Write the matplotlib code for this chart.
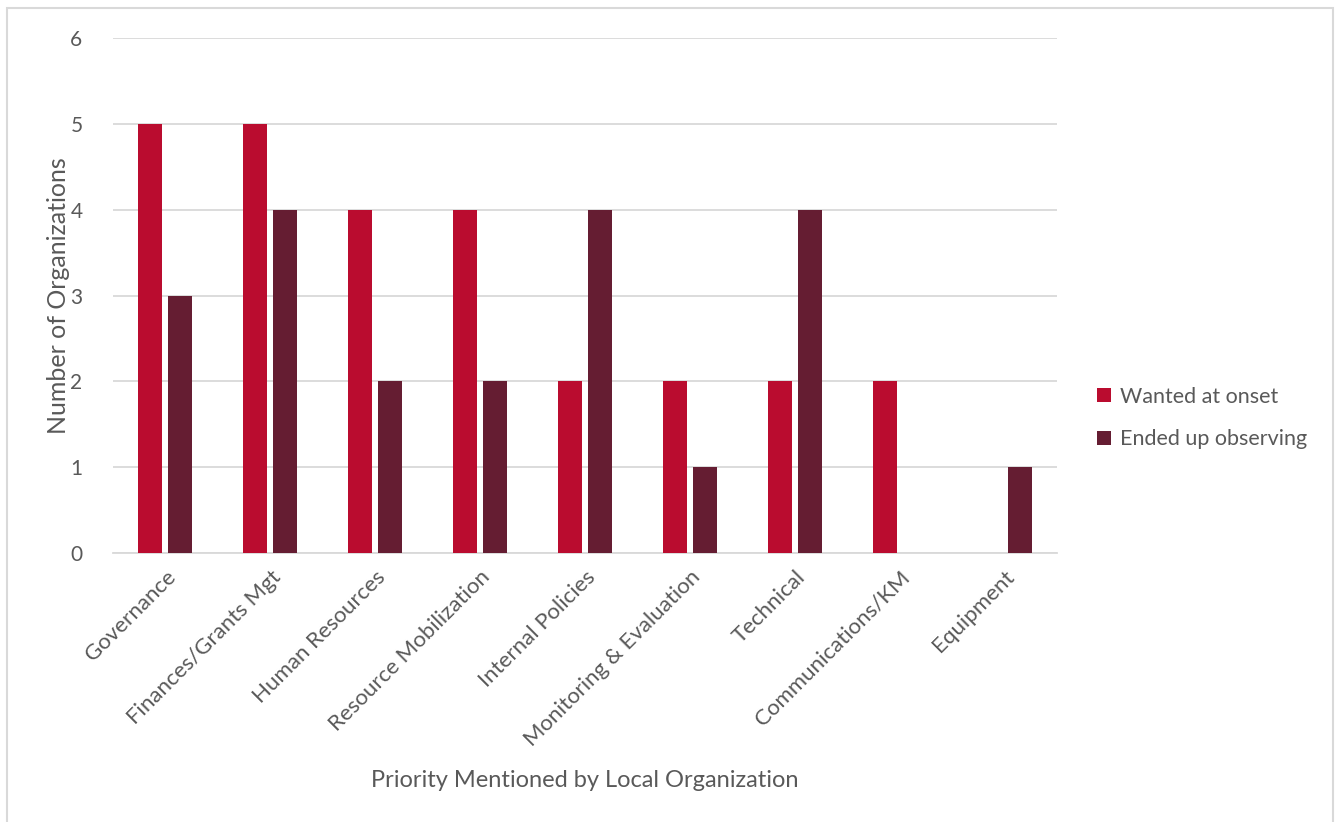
import numpy as np
import matplotlib.pyplot as plt
from matplotlib.patches import Rectangle

categories = ['Governance', 'Finances/Grants Mgt', 'Human Resources', 'Resource Mobilization',
              'Internal Policies', 'Monitoring & Evaluation', 'Technical', 'Communications/KM',
              'Equipment']
wanted = [5, 5, 4, 4, 2, 2, 2, 2, 0]
observed = [3, 4, 2, 2, 4, 1, 4, 0, 1]
series_names = ['Wanted at onset', 'Ended up observing']

red = '#BA0C2F'
dark = '#651D32'
gray = '#595959'

plt.rcParams['font.family'] = ['Lato', 'DejaVu Sans']

fig = plt.figure(figsize=(13.38, 8.22), dpi=100)
ax = fig.add_axes([113/1338, 1-553/822, (1057-113)/1338, (553-38)/822])

x = np.arange(len(categories))
w = 0.229
ax.bar(x - 0.143, wanted, w, color=red, label=series_names[0], zorder=3)
ax.bar(x + 0.143, observed, w, color=dark, label=series_names[1], zorder=3)

ax.set_xlim(-0.5, len(categories) - 0.5)
ax.set_ylim(0, 6)
ax.set_yticks(range(7))
ax.grid(axis='y', color='#d9d9d9', linewidth=1.3, zorder=0)
for s in ['top', 'right', 'left']:
    ax.spines[s].set_visible(False)
ax.spines['bottom'].set_color('#d9d9d9')
ax.spines['bottom'].set_linewidth(1.3)
ax.tick_params(axis='both', length=0, colors=gray)
ax.tick_params(axis='y', pad=22, labelsize=15)
ax.set_xticks(x)
ax.set_xticklabels(categories, rotation=45, ha='right', rotation_mode='anchor')
ax.tick_params(axis='x', pad=10, labelsize=16)

ax.set_ylabel('Number of Organizations', fontsize=18, color=gray, labelpad=0)
ax.set_xlabel('Priority Mentioned by Local Organization', fontsize=17, color=gray, labelpad=14)

leg = ax.legend(loc='center left', bbox_to_anchor=(1.022, 0.262), frameon=False,
                fontsize=15.5, handlelength=0.65, handleheight=0.65, handletextpad=0.4,
                labelspacing=1.05)
for t in leg.get_texts():
    t.set_color(gray)

fig.patches.append(Rectangle((7/1338, -0.01), 1326/1338, 1 - 8/822 + 0.01,
                             transform=fig.transFigure, fill=False,
                             edgecolor='#d9d9d9', linewidth=1.5))

fig.savefig('out.png', dpi=100)
